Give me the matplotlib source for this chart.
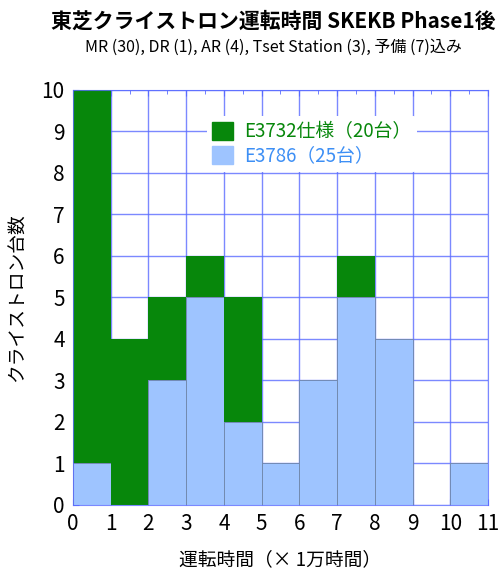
import numpy as np
import matplotlib.pyplot as plt
from matplotlib.patches import Patch

plt.rcParams['font.family'] = ['Noto Sans CJK JP', 'DejaVu Sans']

# bins (x 10,000 hours)
bin_left = [0, 1, 2, 3, 4, 5, 6, 7, 8, 9, 10]
e3786 = [1, 0, 3, 5, 2, 1, 3, 5, 4, 0, 1]
e3732 = [9, 4, 2, 1, 3, 0, 0, 1, 0, 0, 0]
labels = ['E3732仕様（20台）', 'E3786（25台）']

green = '#07870b'
blue = '#9ec4ff'
grid_c = '#5a6cff'

fig = plt.figure(figsize=(5.02, 5.73), dpi=100)
ax = fig.add_axes([0.1454, 0.1187, 0.8267, 0.7243])

ax.bar(bin_left, e3786, width=1, align='edge', color=blue,
       edgecolor='#6f86a8', linewidth=0.6, zorder=2)
ax.bar(bin_left, e3732, width=1, align='edge', bottom=e3786, color=green,
       edgecolor='none', zorder=2)

ax.set_xlim(0, 11)
ax.set_ylim(0, 10)
ax.set_xticks(range(0, 12))
ax.set_yticks(range(0, 11))
ax.set_xticks(np.arange(0.5, 11, 1), minor=True)
ax.grid(True, color=grid_c, linewidth=1.0, alpha=0.8, zorder=1)
ax.set_axisbelow(True)
for s in ax.spines.values():
    s.set_color(grid_c)
    s.set_alpha(0.8)
ax.tick_params(axis='both', which='both', direction='in', color=grid_c,
               labelsize=15, pad=6, top=True, length=4)
ax.tick_params(axis='x', which='minor', length=3, bottom=False)

ax.set_xlabel('運転時間（× 1万時間）', fontsize=13.5, labelpad=10)
ax.set_ylabel('クライストロン台数', fontsize=13.5, labelpad=10)

fig.text(0.545, 0.962, '東芝クライストロン運転時間 SKEKB Phase1後',
         ha='center', va='center', fontsize=15, fontweight='bold')
fig.text(0.545, 0.918, 'MR (30), DR (1), AR (4), Tset Station (3), 予備 (7)込み',
         ha='center', va='center', fontsize=11.5)

handles = [Patch(color=green), Patch(color=blue)]
leg = ax.legend(handles, labels, loc='upper left', bbox_to_anchor=(0.3, 0.96),
                frameon=True, fontsize=13.5, handlelength=1.1, handleheight=1.1,
                handletextpad=0.6, borderpad=0.3, labelspacing=0.15)
leg.get_frame().set_edgecolor('none')
leg.get_frame().set_facecolor('white')
leg.get_frame().set_alpha(1)
leg.set_zorder(3)
leg.get_texts()[0].set_color(green)
leg.get_texts()[1].set_color('#3d8ff5')

fig.savefig('out.png', dpi=100)
